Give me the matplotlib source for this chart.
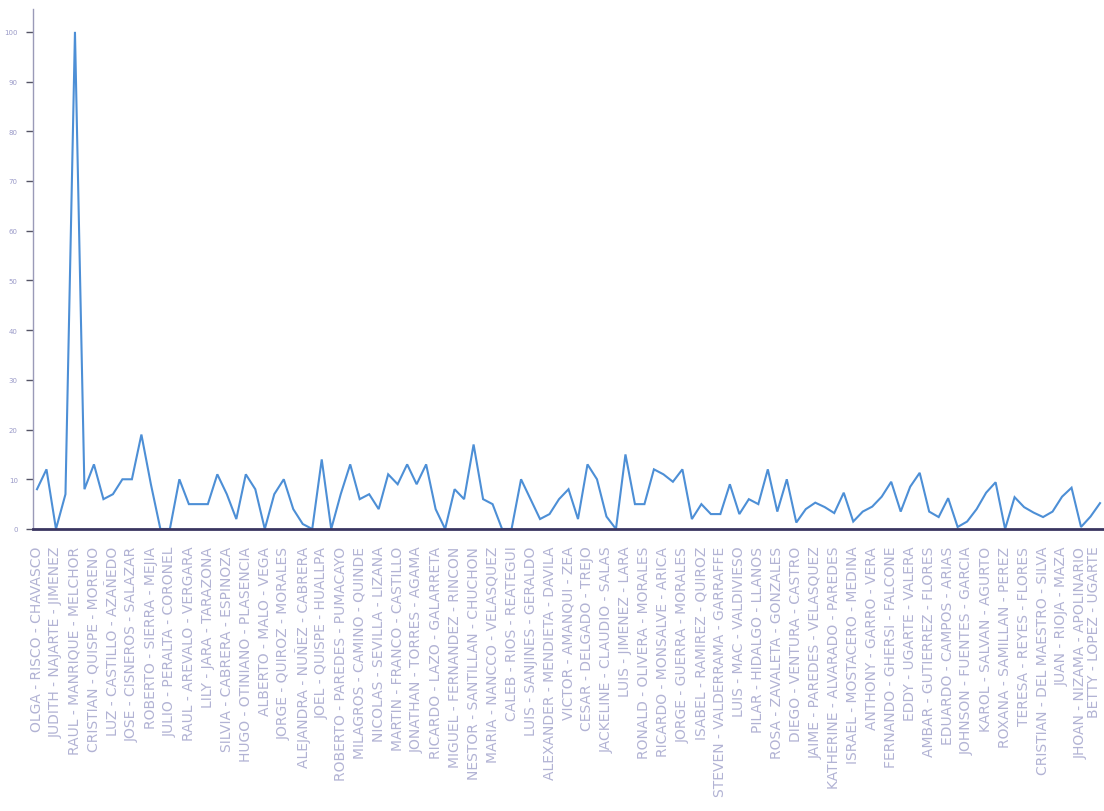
import matplotlib
matplotlib.use("Agg")
import matplotlib.pyplot as plt
import matplotlib.transforms as mtransforms
import numpy as np

# Scores per person (one point per person, only every other name is printed)
values = [
    8, 12, 0, 7, 100, 8, 13, 6, 7, 10, 10, 19, 9, 0, 0, 10, 5, 5, 5, 11,
    7, 2, 11, 8, 0, 7, 10, 4, 1, 0, 14, 0, 7, 13, 6, 7, 4, 11, 9, 13,
    9, 13, 4, 0, 8, 6, 17, 6, 5, 0, 0, 10, 6, 2, 3, 6, 8, 2, 13, 10,
    2.5, 0, 15, 5, 5, 12, 11, 9.5, 12, 2, 5, 3, 3, 9, 3, 6, 5, 12, 3.5, 10,
    1.3, 4, 5.3, 4.4, 3.2, 7.3, 1.5, 3.5, 4.5, 6.5, 9.5, 3.5, 8.5, 11.3, 3.5, 2.4, 6.2, 0.4, 1.5, 4,
    7.3, 9.4, 0, 6.4, 4.4, 3.3, 2.4, 3.5, 6.5, 8.3, 0.4, 2.5, 5.2,
]

# Names shown on the category axis (every second person)
tick_names = [
    "OLGA - RISCO - CHAVASCO",
    "JUDITH - NAJARTE - JIMENEZ",
    "RAUL - MANRIQUE - MELCHOR",
    "CRISTIAN - QUISPE - MORENO",
    "LUZ - CASTILLO - AZAÑEDO",
    "JOSE - CISNEROS - SALAZAR",
    "ROBERTO - SIERRA - MEJIA",
    "JULIO - PERALTA - CORONEL",
    "RAUL - AREVALO - VERGARA",
    "LILY - JARA - TARAZONA",
    "SILVIA - CABRERA - ESPINOZA",
    "HUGO - OTINIANO - PLASENCIA",
    "ALBERTO - MALO - VEGA",
    "JORGE - QUIROZ - MORALES",
    "ALEJANDRA - NUÑEZ - CABRERA",
    "JOEL - QUISPE - HUALLPA",
    "ROBERTO - PAREDES - PUMACAYO",
    "MILAGROS - CAMINO - QUINDE",
    "NICOLAS - SEVILLA - LIZANA",
    "MARTIN - FRANCO - CASTILLO",
    "JONATHAN - TORRES - AGAMA",
    "RICARDO - LAZO - GALARRETA",
    "MIGUEL - FERNANDEZ - RINCON",
    "NESTOR - SANTILLAN - CHUCHON",
    "MARIA - NANCCO - VELASQUEZ",
    "CALEB - RIOS - REATEGUI",
    "LUIS - SANJINES - GERALDO",
    "ALEXANDER - MENDIETA - DAVILA",
    "VICTOR - AMANQUI - ZEA",
    "CESAR - DELGADO - TREJO",
    "JACKELINE - CLAUDIO - SALAS",
    "LUIS - JIMENEZ - LARA",
    "RONALD - OLIVERA - MORALES",
    "RICARDO - MONSALVE - ARICA",
    "JORGE - GUERRA - MORALES",
    "ISABEL - RAMIREZ - QUIROZ",
    "STEVEN - VALDERRAMA - GARRAFFE",
    "LUIS - MAC - VALDIVIESO",
    "PILAR - HIDALGO - LLANOS",
    "ROSA - ZAVALETA - GONZALES",
    "DIEGO - VENTURA - CASTRO",
    "JAIME - PAREDES - VELASQUEZ",
    "KATHERINE - ALVARADO - PAREDES",
    "ISRAEL - MOSTACERO - MEDINA",
    "ANTHONY - GARRO - VERA",
    "FERNANDO - GHERSI - FALCONE",
    "EDDY - UGARTE - VALERA",
    "AMBAR - GUTIERREZ - FLORES",
    "EDUARDO - CAMPOS - ARIAS",
    "JOHNSON - FUENTES - GARCIA",
    "KAROL - SALVAN - AGURTO",
    "ROXANA - SAMILLAN - PEREZ",
    "TERESA - REYES - FLORES",
    "CRISTIAN - DEL MAESTRO - SILVA",
    "JUAN - RIOJA - MAZA",
    "JHOAN - NIZAMA - APOLINARIO",
    "BETTY - LOPEZ - UGARTE",
]
y_ticks = [0, 10, 20, 30, 40, 50, 60, 70, 80, 90, 100]

fig = plt.figure(figsize=(11.04, 8.12), dpi=100)
ax = fig.add_axes([0.0299, 0.3473, 0.9701, 0.6404])

x = np.arange(len(values))
ax.plot(x, values, color="#4d8fd6", linewidth=1.5, solid_joinstyle="miter", zorder=3)

ax.set_xlim(-0.42, len(values) - 1 + 0.42)
ax.set_ylim(0, 104.6)

ax.set_xticks(x[::2])
ax.set_xticklabels(tick_names, rotation=90, fontsize=10, color="#b2b3d4",
                   ha="center", va="top")
ax.tick_params(axis="x", length=0, pad=12)

# keep the right-most name inside the canvas
last = ax.get_xticklabels()[-1]
last.set_transform(last.get_transform() +
                   mtransforms.ScaledTranslation(-4 / 72, 0, fig.dpi_scale_trans))

ax.set_yticks(y_ticks)
ax.set_yticklabels([str(v) for v in y_ticks], fontsize=5, color="#9a9ac8")
ax.tick_params(axis="y", length=5, width=1.0, color="#555566", pad=6)

for side in ("top", "right"):
    ax.spines[side].set_visible(False)
ax.spines["left"].set_color("#9a9ab8")
ax.spines["left"].set_linewidth(1.0)
ax.spines["bottom"].set_color("#3a3560")
ax.spines["bottom"].set_linewidth(2.0)
ax.spines["bottom"].set_zorder(4)

fig.savefig("out.png", dpi=100)
